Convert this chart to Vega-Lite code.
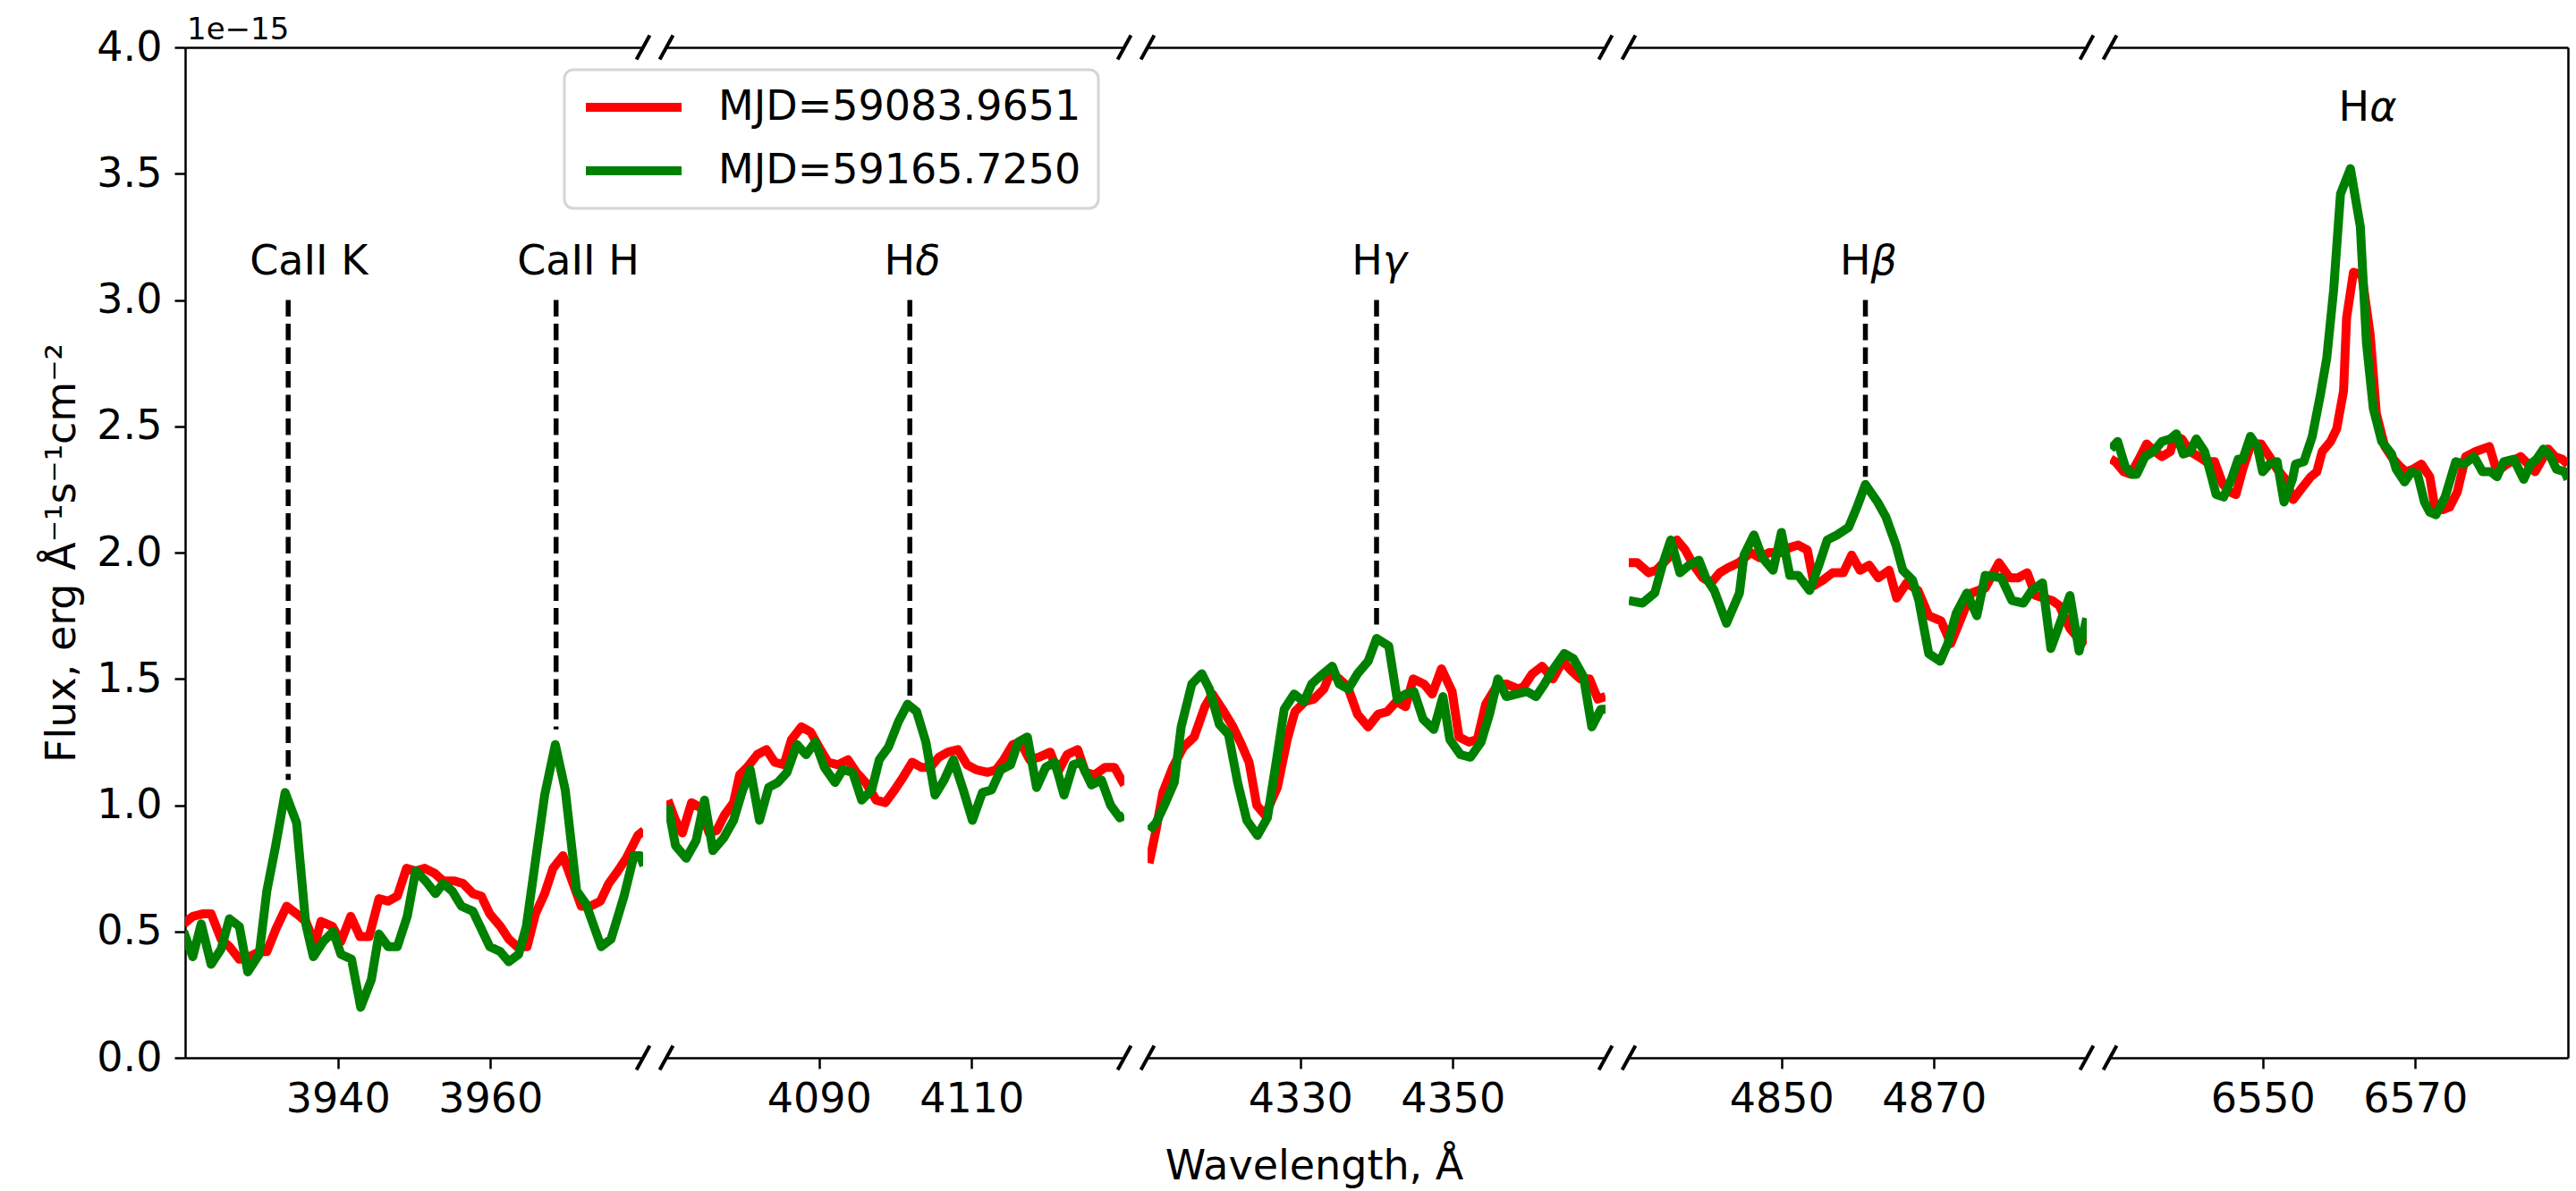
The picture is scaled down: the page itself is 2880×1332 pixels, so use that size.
{
"$schema": "https://vega.github.io/schema/vega-lite/v6.json",
"background": "white",
"padding": {"left": 46, "top": 17, "right": 5, "bottom": 5},
"bounds": "flush",
"datasets": {
"spectra": [
{"panel":1,"series":"MJD=59083.9651","wavelength":3919.8,"flux":0.53},{"panel":1,"series":"MJD=59083.9651","wavelength":3921.0,"flux":0.56},{"panel":1,"series":"MJD=59083.9651","wavelength":3922.4,"flux":0.57},{"panel":1,"series":"MJD=59083.9651","wavelength":3923.4,"flux":0.57},{"panel":1,"series":"MJD=59083.9651","wavelength":3924.7,"flux":0.47},{"panel":1,"series":"MJD=59083.9651","wavelength":3925.8,"flux":0.44},{"panel":1,"series":"MJD=59083.9651","wavelength":3927.1,"flux":0.39},{"panel":1,"series":"MJD=59083.9651","wavelength":3928.4,"flux":0.40},{"panel":1,"series":"MJD=59083.9651","wavelength":3929.7,"flux":0.42},{"panel":1,"series":"MJD=59083.9651","wavelength":3930.7,"flux":0.42},{"panel":1,"series":"MJD=59083.9651","wavelength":3931.9,"flux":0.51},{"panel":1,"series":"MJD=59083.9651","wavelength":3933.3,"flux":0.60},{"panel":1,"series":"MJD=59083.9651","wavelength":3934.6,"flux":0.57},{"panel":1,"series":"MJD=59083.9651","wavelength":3935.8,"flux":0.54},{"panel":1,"series":"MJD=59083.9651","wavelength":3937.0,"flux":0.45},{"panel":1,"series":"MJD=59083.9651","wavelength":3937.8,"flux":0.54},{"panel":1,"series":"MJD=59083.9651","wavelength":3939.3,"flux":0.52},{"panel":1,"series":"MJD=59083.9651","wavelength":3940.4,"flux":0.46},{"panel":1,"series":"MJD=59083.9651","wavelength":3941.7,"flux":0.56},{"panel":1,"series":"MJD=59083.9651","wavelength":3942.9,"flux":0.48},{"panel":1,"series":"MJD=59083.9651","wavelength":3944.1,"flux":0.48},{"panel":1,"series":"MJD=59083.9651","wavelength":3945.4,"flux":0.63},{"panel":1,"series":"MJD=59083.9651","wavelength":3946.6,"flux":0.62},{"panel":1,"series":"MJD=59083.9651","wavelength":3947.8,"flux":0.64},{"panel":1,"series":"MJD=59083.9651","wavelength":3949.0,"flux":0.75},{"panel":1,"series":"MJD=59083.9651","wavelength":3950.2,"flux":0.74},{"panel":1,"series":"MJD=59083.9651","wavelength":3951.4,"flux":0.75},{"panel":1,"series":"MJD=59083.9651","wavelength":3952.7,"flux":0.73},{"panel":1,"series":"MJD=59083.9651","wavelength":3953.8,"flux":0.70},{"panel":1,"series":"MJD=59083.9651","wavelength":3955.3,"flux":0.70},{"panel":1,"series":"MJD=59083.9651","wavelength":3956.4,"flux":0.69},{"panel":1,"series":"MJD=59083.9651","wavelength":3957.7,"flux":0.65},{"panel":1,"series":"MJD=59083.9651","wavelength":3958.8,"flux":0.64},{"panel":1,"series":"MJD=59083.9651","wavelength":3959.9,"flux":0.57},{"panel":1,"series":"MJD=59083.9651","wavelength":3961.3,"flux":0.52},{"panel":1,"series":"MJD=59083.9651","wavelength":3962.4,"flux":0.47},{"panel":1,"series":"MJD=59083.9651","wavelength":3963.5,"flux":0.44},{"panel":1,"series":"MJD=59083.9651","wavelength":3964.8,"flux":0.44},{"panel":1,"series":"MJD=59083.9651","wavelength":3965.9,"flux":0.57},{"panel":1,"series":"MJD=59083.9651","wavelength":3967.1,"flux":0.65},{"panel":1,"series":"MJD=59083.9651","wavelength":3968.2,"flux":0.75},{"panel":1,"series":"MJD=59083.9651","wavelength":3969.5,"flux":0.80},{"panel":1,"series":"MJD=59083.9651","wavelength":3970.7,"flux":0.70},{"panel":1,"series":"MJD=59083.9651","wavelength":3971.9,"flux":0.60},{"panel":1,"series":"MJD=59083.9651","wavelength":3973.1,"flux":0.60},{"panel":1,"series":"MJD=59083.9651","wavelength":3974.4,"flux":0.62},{"panel":1,"series":"MJD=59083.9651","wavelength":3975.5,"flux":0.69},{"panel":1,"series":"MJD=59083.9651","wavelength":3976.7,"flux":0.74},{"panel":1,"series":"MJD=59083.9651","wavelength":3977.8,"flux":0.79},{"panel":1,"series":"MJD=59083.9651","wavelength":3979.3,"flux":0.88},{"panel":1,"series":"MJD=59083.9651","wavelength":3980.1,"flux":0.90},
{"panel":1,"series":"MJD=59165.7250","wavelength":3919.8,"flux":0.50},{"panel":1,"series":"MJD=59165.7250","wavelength":3921.0,"flux":0.40},{"panel":1,"series":"MJD=59165.7250","wavelength":3922.1,"flux":0.53},{"panel":1,"series":"MJD=59165.7250","wavelength":3923.4,"flux":0.37},{"panel":1,"series":"MJD=59165.7250","wavelength":3924.7,"flux":0.43},{"panel":1,"series":"MJD=59165.7250","wavelength":3925.8,"flux":0.55},{"panel":1,"series":"MJD=59165.7250","wavelength":3927.1,"flux":0.52},{"panel":1,"series":"MJD=59165.7250","wavelength":3928.2,"flux":0.34},{"panel":1,"series":"MJD=59165.7250","wavelength":3929.7,"flux":0.41},{"panel":1,"series":"MJD=59165.7250","wavelength":3930.7,"flux":0.66},{"panel":1,"series":"MJD=59165.7250","wavelength":3931.8,"flux":0.83},{"panel":1,"series":"MJD=59165.7250","wavelength":3933.1,"flux":1.05},{"panel":1,"series":"MJD=59165.7250","wavelength":3934.6,"flux":0.93},{"panel":1,"series":"MJD=59165.7250","wavelength":3935.8,"flux":0.53},{"panel":1,"series":"MJD=59165.7250","wavelength":3936.8,"flux":0.40},{"panel":1,"series":"MJD=59165.7250","wavelength":3938.1,"flux":0.46},{"panel":1,"series":"MJD=59165.7250","wavelength":3939.4,"flux":0.50},{"panel":1,"series":"MJD=59165.7250","wavelength":3940.4,"flux":0.41},{"panel":1,"series":"MJD=59165.7250","wavelength":3941.8,"flux":0.39},{"panel":1,"series":"MJD=59165.7250","wavelength":3943.0,"flux":0.20},{"panel":1,"series":"MJD=59165.7250","wavelength":3944.4,"flux":0.31},{"panel":1,"series":"MJD=59165.7250","wavelength":3945.4,"flux":0.49},{"panel":1,"series":"MJD=59165.7250","wavelength":3946.6,"flux":0.44},{"panel":1,"series":"MJD=59165.7250","wavelength":3947.8,"flux":0.44},{"panel":1,"series":"MJD=59165.7250","wavelength":3949.1,"flux":0.56},{"panel":1,"series":"MJD=59165.7250","wavelength":3950.2,"flux":0.74},{"panel":1,"series":"MJD=59165.7250","wavelength":3951.5,"flux":0.70},{"panel":1,"series":"MJD=59165.7250","wavelength":3952.8,"flux":0.65},{"panel":1,"series":"MJD=59165.7250","wavelength":3953.8,"flux":0.69},{"panel":1,"series":"MJD=59165.7250","wavelength":3955.0,"flux":0.66},{"panel":1,"series":"MJD=59165.7250","wavelength":3956.2,"flux":0.60},{"panel":1,"series":"MJD=59165.7250","wavelength":3957.7,"flux":0.58},{"panel":1,"series":"MJD=59165.7250","wavelength":3958.8,"flux":0.51},{"panel":1,"series":"MJD=59165.7250","wavelength":3959.9,"flux":0.44},{"panel":1,"series":"MJD=59165.7250","wavelength":3961.3,"flux":0.42},{"panel":1,"series":"MJD=59165.7250","wavelength":3962.4,"flux":0.38},{"panel":1,"series":"MJD=59165.7250","wavelength":3963.7,"flux":0.41},{"panel":1,"series":"MJD=59165.7250","wavelength":3964.7,"flux":0.52},{"panel":1,"series":"MJD=59165.7250","wavelength":3965.9,"flux":0.78},{"panel":1,"series":"MJD=59165.7250","wavelength":3967.1,"flux":1.04},{"panel":1,"series":"MJD=59165.7250","wavelength":3968.5,"flux":1.24},{"panel":1,"series":"MJD=59165.7250","wavelength":3969.8,"flux":1.06},{"panel":1,"series":"MJD=59165.7250","wavelength":3971.3,"flux":0.66},{"panel":1,"series":"MJD=59165.7250","wavelength":3972.5,"flux":0.61},{"panel":1,"series":"MJD=59165.7250","wavelength":3974.5,"flux":0.44},{"panel":1,"series":"MJD=59165.7250","wavelength":3975.8,"flux":0.47},{"panel":1,"series":"MJD=59165.7250","wavelength":3977.5,"flux":0.64},{"panel":1,"series":"MJD=59165.7250","wavelength":3978.8,"flux":0.80},{"panel":1,"series":"MJD=59165.7250","wavelength":3979.6,"flux":0.80},{"panel":1,"series":"MJD=59165.7250","wavelength":3980.1,"flux":0.76},
{"panel":2,"series":"MJD=59083.9651","wavelength":4070.2,"flux":1.02},{"panel":2,"series":"MJD=59083.9651","wavelength":4071.2,"flux":0.94},{"panel":2,"series":"MJD=59083.9651","wavelength":4072.1,"flux":0.89},{"panel":2,"series":"MJD=59083.9651","wavelength":4073.3,"flux":1.01},{"panel":2,"series":"MJD=59083.9651","wavelength":4074.5,"flux":0.99},{"panel":2,"series":"MJD=59083.9651","wavelength":4075.6,"flux":0.89},{"panel":2,"series":"MJD=59083.9651","wavelength":4076.6,"flux":0.90},{"panel":2,"series":"MJD=59083.9651","wavelength":4077.6,"flux":0.96},{"panel":2,"series":"MJD=59083.9651","wavelength":4078.8,"flux":1.01},{"panel":2,"series":"MJD=59083.9651","wavelength":4079.6,"flux":1.12},{"panel":2,"series":"MJD=59083.9651","wavelength":4080.6,"flux":1.15},{"panel":2,"series":"MJD=59083.9651","wavelength":4081.9,"flux":1.20},{"panel":2,"series":"MJD=59083.9651","wavelength":4083.1,"flux":1.22},{"panel":2,"series":"MJD=59083.9651","wavelength":4084.2,"flux":1.17},{"panel":2,"series":"MJD=59083.9651","wavelength":4085.4,"flux":1.16},{"panel":2,"series":"MJD=59083.9651","wavelength":4086.4,"flux":1.26},{"panel":2,"series":"MJD=59083.9651","wavelength":4087.7,"flux":1.31},{"panel":2,"series":"MJD=59083.9651","wavelength":4088.9,"flux":1.29},{"panel":2,"series":"MJD=59083.9651","wavelength":4090.0,"flux":1.23},{"panel":2,"series":"MJD=59083.9651","wavelength":4091.2,"flux":1.17},{"panel":2,"series":"MJD=59083.9651","wavelength":4092.5,"flux":1.16},{"panel":2,"series":"MJD=59083.9651","wavelength":4093.8,"flux":1.18},{"panel":2,"series":"MJD=59083.9651","wavelength":4094.9,"flux":1.13},{"panel":2,"series":"MJD=59083.9651","wavelength":4096.1,"flux":1.09},{"panel":2,"series":"MJD=59083.9651","wavelength":4097.5,"flux":1.02},{"panel":2,"series":"MJD=59083.9651","wavelength":4098.7,"flux":1.01},{"panel":2,"series":"MJD=59083.9651","wavelength":4099.9,"flux":1.06},{"panel":2,"series":"MJD=59083.9651","wavelength":4101.0,"flux":1.11},{"panel":2,"series":"MJD=59083.9651","wavelength":4102.2,"flux":1.17},{"panel":2,"series":"MJD=59083.9651","wavelength":4103.4,"flux":1.15},{"panel":2,"series":"MJD=59083.9651","wavelength":4104.6,"flux":1.15},{"panel":2,"series":"MJD=59083.9651","wavelength":4105.7,"flux":1.19},{"panel":2,"series":"MJD=59083.9651","wavelength":4106.9,"flux":1.21},{"panel":2,"series":"MJD=59083.9651","wavelength":4108.2,"flux":1.22},{"panel":2,"series":"MJD=59083.9651","wavelength":4109.4,"flux":1.16},{"panel":2,"series":"MJD=59083.9651","wavelength":4110.6,"flux":1.14},{"panel":2,"series":"MJD=59083.9651","wavelength":4112.1,"flux":1.13},{"panel":2,"series":"MJD=59083.9651","wavelength":4113.2,"flux":1.14},{"panel":2,"series":"MJD=59083.9651","wavelength":4114.2,"flux":1.18},{"panel":2,"series":"MJD=59083.9651","wavelength":4115.4,"flux":1.24},{"panel":2,"series":"MJD=59083.9651","wavelength":4116.4,"flux":1.25},{"panel":2,"series":"MJD=59083.9651","wavelength":4117.6,"flux":1.18},{"panel":2,"series":"MJD=59083.9651","wavelength":4118.8,"flux":1.19},{"panel":2,"series":"MJD=59083.9651","wavelength":4120.3,"flux":1.21},{"panel":2,"series":"MJD=59083.9651","wavelength":4121.3,"flux":1.13},{"panel":2,"series":"MJD=59083.9651","wavelength":4122.5,"flux":1.20},{"panel":2,"series":"MJD=59083.9651","wavelength":4123.9,"flux":1.22},{"panel":2,"series":"MJD=59083.9651","wavelength":4124.9,"flux":1.13},{"panel":2,"series":"MJD=59083.9651","wavelength":4126.1,"flux":1.12},{"panel":2,"series":"MJD=59083.9651","wavelength":4127.5,"flux":1.15},{"panel":2,"series":"MJD=59083.9651","wavelength":4128.7,"flux":1.15},{"panel":2,"series":"MJD=59083.9651","wavelength":4130.0,"flux":1.08},
{"panel":2,"series":"MJD=59165.7250","wavelength":4070.2,"flux":1.00},{"panel":2,"series":"MJD=59165.7250","wavelength":4071.2,"flux":0.84},{"panel":2,"series":"MJD=59165.7250","wavelength":4072.6,"flux":0.79},{"panel":2,"series":"MJD=59165.7250","wavelength":4073.9,"flux":0.86},{"panel":2,"series":"MJD=59165.7250","wavelength":4075.0,"flux":1.02},{"panel":2,"series":"MJD=59165.7250","wavelength":4076.1,"flux":0.82},{"panel":2,"series":"MJD=59165.7250","wavelength":4077.5,"flux":0.87},{"panel":2,"series":"MJD=59165.7250","wavelength":4078.8,"flux":0.94},{"panel":2,"series":"MJD=59165.7250","wavelength":4079.9,"flux":1.05},{"panel":2,"series":"MJD=59165.7250","wavelength":4081.0,"flux":1.14},{"panel":2,"series":"MJD=59165.7250","wavelength":4082.2,"flux":0.94},{"panel":2,"series":"MJD=59165.7250","wavelength":4083.4,"flux":1.07},{"panel":2,"series":"MJD=59165.7250","wavelength":4084.6,"flux":1.09},{"panel":2,"series":"MJD=59165.7250","wavelength":4085.8,"flux":1.13},{"panel":2,"series":"MJD=59165.7250","wavelength":4087.1,"flux":1.24},{"panel":2,"series":"MJD=59165.7250","wavelength":4088.3,"flux":1.20},{"panel":2,"series":"MJD=59165.7250","wavelength":4089.5,"flux":1.25},{"panel":2,"series":"MJD=59165.7250","wavelength":4090.7,"flux":1.15},{"panel":2,"series":"MJD=59165.7250","wavelength":4092.1,"flux":1.09},{"panel":2,"series":"MJD=59165.7250","wavelength":4093.1,"flux":1.14},{"panel":2,"series":"MJD=59165.7250","wavelength":4094.4,"flux":1.13},{"panel":2,"series":"MJD=59165.7250","wavelength":4095.6,"flux":1.02},{"panel":2,"series":"MJD=59165.7250","wavelength":4096.9,"flux":1.06},{"panel":2,"series":"MJD=59165.7250","wavelength":4097.9,"flux":1.18},{"panel":2,"series":"MJD=59165.7250","wavelength":4099.1,"flux":1.23},{"panel":2,"series":"MJD=59165.7250","wavelength":4100.4,"flux":1.33},{"panel":2,"series":"MJD=59165.7250","wavelength":4101.6,"flux":1.40},{"panel":2,"series":"MJD=59165.7250","wavelength":4102.8,"flux":1.37},{"panel":2,"series":"MJD=59165.7250","wavelength":4104.0,"flux":1.25},{"panel":2,"series":"MJD=59165.7250","wavelength":4105.2,"flux":1.04},{"panel":2,"series":"MJD=59165.7250","wavelength":4106.4,"flux":1.10},{"panel":2,"series":"MJD=59165.7250","wavelength":4107.6,"flux":1.18},{"panel":2,"series":"MJD=59165.7250","wavelength":4108.9,"flux":1.06},{"panel":2,"series":"MJD=59165.7250","wavelength":4110.1,"flux":0.94},{"panel":2,"series":"MJD=59165.7250","wavelength":4111.4,"flux":1.05},{"panel":2,"series":"MJD=59165.7250","wavelength":4112.6,"flux":1.06},{"panel":2,"series":"MJD=59165.7250","wavelength":4113.8,"flux":1.14},{"panel":2,"series":"MJD=59165.7250","wavelength":4115.1,"flux":1.16},{"panel":2,"series":"MJD=59165.7250","wavelength":4116.1,"flux":1.25},{"panel":2,"series":"MJD=59165.7250","wavelength":4117.3,"flux":1.27},{"panel":2,"series":"MJD=59165.7250","wavelength":4118.5,"flux":1.07},{"panel":2,"series":"MJD=59165.7250","wavelength":4119.7,"flux":1.15},{"panel":2,"series":"MJD=59165.7250","wavelength":4120.9,"flux":1.17},{"panel":2,"series":"MJD=59165.7250","wavelength":4122.1,"flux":1.04},{"panel":2,"series":"MJD=59165.7250","wavelength":4123.3,"flux":1.16},{"panel":2,"series":"MJD=59165.7250","wavelength":4124.3,"flux":1.17},{"panel":2,"series":"MJD=59165.7250","wavelength":4125.7,"flux":1.08},{"panel":2,"series":"MJD=59165.7250","wavelength":4127.0,"flux":1.10},{"panel":2,"series":"MJD=59165.7250","wavelength":4128.2,"flux":1.00},{"panel":2,"series":"MJD=59165.7250","wavelength":4129.4,"flux":0.95},{"panel":2,"series":"MJD=59165.7250","wavelength":4130.0,"flux":0.96},
{"panel":3,"series":"MJD=59083.9651","wavelength":4310.2,"flux":0.77},{"panel":3,"series":"MJD=59083.9651","wavelength":4311.1,"flux":0.90},{"panel":3,"series":"MJD=59083.9651","wavelength":4312.0,"flux":1.05},{"panel":3,"series":"MJD=59083.9651","wavelength":4313.3,"flux":1.15},{"panel":3,"series":"MJD=59083.9651","wavelength":4314.7,"flux":1.23},{"panel":3,"series":"MJD=59083.9651","wavelength":4316.1,"flux":1.27},{"panel":3,"series":"MJD=59083.9651","wavelength":4317.5,"flux":1.39},{"panel":3,"series":"MJD=59083.9651","wavelength":4318.5,"flux":1.44},{"panel":3,"series":"MJD=59083.9651","wavelength":4319.8,"flux":1.38},{"panel":3,"series":"MJD=59083.9651","wavelength":4321.2,"flux":1.31},{"panel":3,"series":"MJD=59083.9651","wavelength":4322.3,"flux":1.24},{"panel":3,"series":"MJD=59083.9651","wavelength":4323.3,"flux":1.17},{"panel":3,"series":"MJD=59083.9651","wavelength":4324.3,"flux":1.00},{"panel":3,"series":"MJD=59083.9651","wavelength":4325.4,"flux":0.96},{"panel":3,"series":"MJD=59083.9651","wavelength":4327.0,"flux":1.07},{"panel":3,"series":"MJD=59083.9651","wavelength":4328.3,"flux":1.26},{"panel":3,"series":"MJD=59083.9651","wavelength":4329.3,"flux":1.37},{"panel":3,"series":"MJD=59083.9651","wavelength":4330.6,"flux":1.41},{"panel":3,"series":"MJD=59083.9651","wavelength":4331.8,"flux":1.42},{"panel":3,"series":"MJD=59083.9651","wavelength":4333.1,"flux":1.46},{"panel":3,"series":"MJD=59083.9651","wavelength":4333.9,"flux":1.52},{"panel":3,"series":"MJD=59083.9651","wavelength":4335.1,"flux":1.50},{"panel":3,"series":"MJD=59083.9651","wavelength":4336.2,"flux":1.47},{"panel":3,"series":"MJD=59083.9651","wavelength":4337.5,"flux":1.36},{"panel":3,"series":"MJD=59083.9651","wavelength":4338.9,"flux":1.31},{"panel":3,"series":"MJD=59083.9651","wavelength":4340.2,"flux":1.36},{"panel":3,"series":"MJD=59083.9651","wavelength":4341.4,"flux":1.37},{"panel":3,"series":"MJD=59083.9651","wavelength":4342.6,"flux":1.41},{"panel":3,"series":"MJD=59083.9651","wavelength":4343.8,"flux":1.39},{"panel":3,"series":"MJD=59083.9651","wavelength":4344.8,"flux":1.50},{"panel":3,"series":"MJD=59083.9651","wavelength":4346.2,"flux":1.48},{"panel":3,"series":"MJD=59083.9651","wavelength":4347.3,"flux":1.44},{"panel":3,"series":"MJD=59083.9651","wavelength":4348.5,"flux":1.54},{"panel":3,"series":"MJD=59083.9651","wavelength":4349.9,"flux":1.45},{"panel":3,"series":"MJD=59083.9651","wavelength":4350.8,"flux":1.27},{"panel":3,"series":"MJD=59083.9651","wavelength":4352.1,"flux":1.25},{"panel":3,"series":"MJD=59083.9651","wavelength":4353.2,"flux":1.26},{"panel":3,"series":"MJD=59083.9651","wavelength":4354.3,"flux":1.40},{"panel":3,"series":"MJD=59083.9651","wavelength":4355.7,"flux":1.47},{"panel":3,"series":"MJD=59083.9651","wavelength":4357.0,"flux":1.48},{"panel":3,"series":"MJD=59083.9651","wavelength":4358.6,"flux":1.46},{"panel":3,"series":"MJD=59083.9651","wavelength":4359.3,"flux":1.47},{"panel":3,"series":"MJD=59083.9651","wavelength":4360.4,"flux":1.52},{"panel":3,"series":"MJD=59083.9651","wavelength":4361.7,"flux":1.55},{"panel":3,"series":"MJD=59083.9651","wavelength":4363.1,"flux":1.50},{"panel":3,"series":"MJD=59083.9651","wavelength":4364.4,"flux":1.57},{"panel":3,"series":"MJD=59083.9651","wavelength":4365.6,"flux":1.53},{"panel":3,"series":"MJD=59083.9651","wavelength":4366.7,"flux":1.50},{"panel":3,"series":"MJD=59083.9651","wavelength":4367.9,"flux":1.50},{"panel":3,"series":"MJD=59083.9651","wavelength":4369.0,"flux":1.42},{"panel":3,"series":"MJD=59083.9651","wavelength":4370.0,"flux":1.43},
{"panel":3,"series":"MJD=59165.7250","wavelength":4310.2,"flux":0.90},{"panel":3,"series":"MJD=59165.7250","wavelength":4311.1,"flux":0.93},{"panel":3,"series":"MJD=59165.7250","wavelength":4312.2,"flux":1.00},{"panel":3,"series":"MJD=59165.7250","wavelength":4313.5,"flux":1.09},{"panel":3,"series":"MJD=59165.7250","wavelength":4314.4,"flux":1.31},{"panel":3,"series":"MJD=59165.7250","wavelength":4315.8,"flux":1.48},{"panel":3,"series":"MJD=59165.7250","wavelength":4317.1,"flux":1.52},{"panel":3,"series":"MJD=59165.7250","wavelength":4318.1,"flux":1.46},{"panel":3,"series":"MJD=59165.7250","wavelength":4319.4,"flux":1.32},{"panel":3,"series":"MJD=59165.7250","wavelength":4320.6,"flux":1.28},{"panel":3,"series":"MJD=59165.7250","wavelength":4321.8,"flux":1.09},{"panel":3,"series":"MJD=59165.7250","wavelength":4323.0,"flux":0.94},{"panel":3,"series":"MJD=59165.7250","wavelength":4324.4,"flux":0.88},{"panel":3,"series":"MJD=59165.7250","wavelength":4325.7,"flux":0.95},{"panel":3,"series":"MJD=59165.7250","wavelength":4326.9,"flux":1.18},{"panel":3,"series":"MJD=59165.7250","wavelength":4327.9,"flux":1.38},{"panel":3,"series":"MJD=59165.7250","wavelength":4329.2,"flux":1.44},{"panel":3,"series":"MJD=59165.7250","wavelength":4330.5,"flux":1.41},{"panel":3,"series":"MJD=59165.7250","wavelength":4331.5,"flux":1.48},{"panel":3,"series":"MJD=59165.7250","wavelength":4332.6,"flux":1.51},{"panel":3,"series":"MJD=59165.7250","wavelength":4334.2,"flux":1.55},{"panel":3,"series":"MJD=59165.7250","wavelength":4335.1,"flux":1.48},{"panel":3,"series":"MJD=59165.7250","wavelength":4336.3,"flux":1.46},{"panel":3,"series":"MJD=59165.7250","wavelength":4337.5,"flux":1.52},{"panel":3,"series":"MJD=59165.7250","wavelength":4338.9,"flux":1.57},{"panel":3,"series":"MJD=59165.7250","wavelength":4340.0,"flux":1.66},{"panel":3,"series":"MJD=59165.7250","wavelength":4341.6,"flux":1.63},{"panel":3,"series":"MJD=59165.7250","wavelength":4342.7,"flux":1.42},{"panel":3,"series":"MJD=59165.7250","wavelength":4343.8,"flux":1.44},{"panel":3,"series":"MJD=59165.7250","wavelength":4344.9,"flux":1.45},{"panel":3,"series":"MJD=59165.7250","wavelength":4346.1,"flux":1.34},{"panel":3,"series":"MJD=59165.7250","wavelength":4347.5,"flux":1.30},{"panel":3,"series":"MJD=59165.7250","wavelength":4348.7,"flux":1.43},{"panel":3,"series":"MJD=59165.7250","wavelength":4349.6,"flux":1.26},{"panel":3,"series":"MJD=59165.7250","wavelength":4351.0,"flux":1.20},{"panel":3,"series":"MJD=59165.7250","wavelength":4352.3,"flux":1.19},{"panel":3,"series":"MJD=59165.7250","wavelength":4353.7,"flux":1.25},{"panel":3,"series":"MJD=59165.7250","wavelength":4354.8,"flux":1.36},{"panel":3,"series":"MJD=59165.7250","wavelength":4355.9,"flux":1.50},{"panel":3,"series":"MJD=59165.7250","wavelength":4357.0,"flux":1.43},{"panel":3,"series":"MJD=59165.7250","wavelength":4358.4,"flux":1.44},{"panel":3,"series":"MJD=59165.7250","wavelength":4359.7,"flux":1.45},{"panel":3,"series":"MJD=59165.7250","wavelength":4360.9,"flux":1.43},{"panel":3,"series":"MJD=59165.7250","wavelength":4362.0,"flux":1.48},{"panel":3,"series":"MJD=59165.7250","wavelength":4363.2,"flux":1.54},{"panel":3,"series":"MJD=59165.7250","wavelength":4364.6,"flux":1.60},{"panel":3,"series":"MJD=59165.7250","wavelength":4365.8,"flux":1.58},{"panel":3,"series":"MJD=59165.7250","wavelength":4367.1,"flux":1.51},{"panel":3,"series":"MJD=59165.7250","wavelength":4368.2,"flux":1.31},{"panel":3,"series":"MJD=59165.7250","wavelength":4369.4,"flux":1.38},{"panel":3,"series":"MJD=59165.7250","wavelength":4370.0,"flux":1.38},
{"panel":4,"series":"MJD=59083.9651","wavelength":4830.0,"flux":1.96},{"panel":4,"series":"MJD=59083.9651","wavelength":4831.1,"flux":1.96},{"panel":4,"series":"MJD=59083.9651","wavelength":4832.6,"flux":1.92},{"panel":4,"series":"MJD=59083.9651","wavelength":4833.6,"flux":1.93},{"panel":4,"series":"MJD=59083.9651","wavelength":4835.2,"flux":1.98},{"panel":4,"series":"MJD=59083.9651","wavelength":4836.3,"flux":2.05},{"panel":4,"series":"MJD=59083.9651","wavelength":4837.4,"flux":2.01},{"panel":4,"series":"MJD=59083.9651","wavelength":4838.5,"flux":1.95},{"panel":4,"series":"MJD=59083.9651","wavelength":4839.7,"flux":1.90},{"panel":4,"series":"MJD=59083.9651","wavelength":4840.8,"flux":1.88},{"panel":4,"series":"MJD=59083.9651","wavelength":4841.9,"flux":1.92},{"panel":4,"series":"MJD=59083.9651","wavelength":4843.0,"flux":1.94},{"panel":4,"series":"MJD=59083.9651","wavelength":4844.4,"flux":1.96},{"panel":4,"series":"MJD=59083.9651","wavelength":4846.0,"flux":2.00},{"panel":4,"series":"MJD=59083.9651","wavelength":4847.1,"flux":1.98},{"panel":4,"series":"MJD=59083.9651","wavelength":4848.4,"flux":2.00},{"panel":4,"series":"MJD=59083.9651","wavelength":4850.0,"flux":2.00},{"panel":4,"series":"MJD=59083.9651","wavelength":4851.1,"flux":2.02},{"panel":4,"series":"MJD=59083.9651","wavelength":4852.2,"flux":2.03},{"panel":4,"series":"MJD=59083.9651","wavelength":4853.4,"flux":2.01},{"panel":4,"series":"MJD=59083.9651","wavelength":4854.3,"flux":1.87},{"panel":4,"series":"MJD=59083.9651","wavelength":4855.4,"flux":1.89},{"panel":4,"series":"MJD=59083.9651","wavelength":4856.7,"flux":1.92},{"panel":4,"series":"MJD=59083.9651","wavelength":4858.1,"flux":1.92},{"panel":4,"series":"MJD=59083.9651","wavelength":4859.2,"flux":1.99},{"panel":4,"series":"MJD=59083.9651","wavelength":4860.3,"flux":1.93},{"panel":4,"series":"MJD=59083.9651","wavelength":4861.5,"flux":1.95},{"panel":4,"series":"MJD=59083.9651","wavelength":4862.7,"flux":1.90},{"panel":4,"series":"MJD=59083.9651","wavelength":4864.1,"flux":1.93},{"panel":4,"series":"MJD=59083.9651","wavelength":4865.1,"flux":1.82},{"panel":4,"series":"MJD=59083.9651","wavelength":4866.4,"flux":1.88},{"panel":4,"series":"MJD=59083.9651","wavelength":4867.9,"flux":1.85},{"panel":4,"series":"MJD=59083.9651","wavelength":4869.3,"flux":1.75},{"panel":4,"series":"MJD=59083.9651","wavelength":4870.9,"flux":1.73},{"panel":4,"series":"MJD=59083.9651","wavelength":4872.2,"flux":1.64},{"panel":4,"series":"MJD=59083.9651","wavelength":4873.8,"flux":1.76},{"panel":4,"series":"MJD=59083.9651","wavelength":4874.9,"flux":1.84},{"panel":4,"series":"MJD=59083.9651","wavelength":4876.7,"flux":1.86},{"panel":4,"series":"MJD=59083.9651","wavelength":4878.5,"flux":1.96},{"panel":4,"series":"MJD=59083.9651","wavelength":4879.9,"flux":1.90},{"panel":4,"series":"MJD=59083.9651","wavelength":4881.0,"flux":1.90},{"panel":4,"series":"MJD=59083.9651","wavelength":4882.2,"flux":1.92},{"panel":4,"series":"MJD=59083.9651","wavelength":4883.3,"flux":1.83},{"panel":4,"series":"MJD=59083.9651","wavelength":4885.5,"flux":1.81},{"panel":4,"series":"MJD=59083.9651","wavelength":4886.4,"flux":1.79},{"panel":4,"series":"MJD=59083.9651","wavelength":4887.8,"flux":1.70},{"panel":4,"series":"MJD=59083.9651","wavelength":4888.9,"flux":1.66},{"panel":4,"series":"MJD=59083.9651","wavelength":4890.0,"flux":1.64},
{"panel":4,"series":"MJD=59165.7250","wavelength":4830.0,"flux":1.81},{"panel":4,"series":"MJD=59165.7250","wavelength":4831.8,"flux":1.80},{"panel":4,"series":"MJD=59165.7250","wavelength":4833.4,"flux":1.84},{"panel":4,"series":"MJD=59165.7250","wavelength":4834.4,"flux":1.95},{"panel":4,"series":"MJD=59165.7250","wavelength":4835.5,"flux":2.05},{"panel":4,"series":"MJD=59165.7250","wavelength":4836.7,"flux":1.92},{"panel":4,"series":"MJD=59165.7250","wavelength":4837.9,"flux":1.95},{"panel":4,"series":"MJD=59165.7250","wavelength":4839.2,"flux":1.97},{"panel":4,"series":"MJD=59165.7250","wavelength":4840.1,"flux":1.90},{"panel":4,"series":"MJD=59165.7250","wavelength":4841.2,"flux":1.85},{"panel":4,"series":"MJD=59165.7250","wavelength":4842.8,"flux":1.72},{"panel":4,"series":"MJD=59165.7250","wavelength":4844.5,"flux":1.84},{"panel":4,"series":"MJD=59165.7250","wavelength":4845.1,"flux":1.99},{"panel":4,"series":"MJD=59165.7250","wavelength":4846.4,"flux":2.07},{"panel":4,"series":"MJD=59165.7250","wavelength":4847.5,"flux":1.98},{"panel":4,"series":"MJD=59165.7250","wavelength":4848.9,"flux":1.93},{"panel":4,"series":"MJD=59165.7250","wavelength":4850.0,"flux":2.08},{"panel":4,"series":"MJD=59165.7250","wavelength":4851.1,"flux":1.91},{"panel":4,"series":"MJD=59165.7250","wavelength":4852.2,"flux":1.91},{"panel":4,"series":"MJD=59165.7250","wavelength":4853.7,"flux":1.85},{"panel":4,"series":"MJD=59165.7250","wavelength":4854.9,"flux":1.95},{"panel":4,"series":"MJD=59165.7250","wavelength":4856.0,"flux":2.05},{"panel":4,"series":"MJD=59165.7250","wavelength":4857.3,"flux":2.07},{"panel":4,"series":"MJD=59165.7250","wavelength":4858.8,"flux":2.10},{"panel":4,"series":"MJD=59165.7250","wavelength":4859.9,"flux":2.18},{"panel":4,"series":"MJD=59165.7250","wavelength":4861.0,"flux":2.27},{"panel":4,"series":"MJD=59165.7250","wavelength":4862.6,"flux":2.20},{"panel":4,"series":"MJD=59165.7250","wavelength":4863.7,"flux":2.14},{"panel":4,"series":"MJD=59165.7250","wavelength":4865.0,"flux":2.03},{"panel":4,"series":"MJD=59165.7250","wavelength":4865.9,"flux":1.93},{"panel":4,"series":"MJD=59165.7250","wavelength":4867.2,"flux":1.89},{"panel":4,"series":"MJD=59165.7250","wavelength":4868.0,"flux":1.81},{"panel":4,"series":"MJD=59165.7250","wavelength":4869.3,"flux":1.60},{"panel":4,"series":"MJD=59165.7250","wavelength":4870.8,"flux":1.57},{"panel":4,"series":"MJD=59165.7250","wavelength":4871.8,"flux":1.64},{"panel":4,"series":"MJD=59165.7250","wavelength":4872.9,"flux":1.76},{"panel":4,"series":"MJD=59165.7250","wavelength":4874.3,"flux":1.84},{"panel":4,"series":"MJD=59165.7250","wavelength":4875.6,"flux":1.75},{"panel":4,"series":"MJD=59165.7250","wavelength":4876.7,"flux":1.91},{"panel":4,"series":"MJD=59165.7250","wavelength":4878.8,"flux":1.90},{"panel":4,"series":"MJD=59165.7250","wavelength":4880.2,"flux":1.81},{"panel":4,"series":"MJD=59165.7250","wavelength":4881.7,"flux":1.80},{"panel":4,"series":"MJD=59165.7250","wavelength":4882.8,"flux":1.85},{"panel":4,"series":"MJD=59165.7250","wavelength":4884.2,"flux":1.88},{"panel":4,"series":"MJD=59165.7250","wavelength":4885.3,"flux":1.62},{"panel":4,"series":"MJD=59165.7250","wavelength":4887.8,"flux":1.83},{"panel":4,"series":"MJD=59165.7250","wavelength":4889.0,"flux":1.61},{"panel":4,"series":"MJD=59165.7250","wavelength":4890.0,"flux":1.74},
{"panel":5,"series":"MJD=59083.9651","wavelength":6530.1,"flux":2.37},{"panel":5,"series":"MJD=59083.9651","wavelength":6530.7,"flux":2.36},{"panel":5,"series":"MJD=59083.9651","wavelength":6531.8,"flux":2.32},{"panel":5,"series":"MJD=59083.9651","wavelength":6532.7,"flux":2.31},{"panel":5,"series":"MJD=59083.9651","wavelength":6533.8,"flux":2.37},{"panel":5,"series":"MJD=59083.9651","wavelength":6534.8,"flux":2.43},{"panel":5,"series":"MJD=59083.9651","wavelength":6535.9,"flux":2.40},{"panel":5,"series":"MJD=59083.9651","wavelength":6536.8,"flux":2.38},{"panel":5,"series":"MJD=59083.9651","wavelength":6537.9,"flux":2.40},{"panel":5,"series":"MJD=59083.9651","wavelength":6538.5,"flux":2.46},{"panel":5,"series":"MJD=59083.9651","wavelength":6539.4,"flux":2.45},{"panel":5,"series":"MJD=59083.9651","wavelength":6540.5,"flux":2.40},{"panel":5,"series":"MJD=59083.9651","wavelength":6541.6,"flux":2.38},{"panel":5,"series":"MJD=59083.9651","wavelength":6542.6,"flux":2.36},{"panel":5,"series":"MJD=59083.9651","wavelength":6543.7,"flux":2.36},{"panel":5,"series":"MJD=59083.9651","wavelength":6544.8,"flux":2.27},{"panel":5,"series":"MJD=59083.9651","wavelength":6545.7,"flux":2.24},{"panel":5,"series":"MJD=59083.9651","wavelength":6546.5,"flux":2.23},{"panel":5,"series":"MJD=59083.9651","wavelength":6547.4,"flux":2.33},{"panel":5,"series":"MJD=59083.9651","wavelength":6548.5,"flux":2.43},{"panel":5,"series":"MJD=59083.9651","wavelength":6549.8,"flux":2.43},{"panel":5,"series":"MJD=59083.9651","wavelength":6550.9,"flux":2.38},{"panel":5,"series":"MJD=59083.9651","wavelength":6551.9,"flux":2.33},{"panel":5,"series":"MJD=59083.9651","wavelength":6553.0,"flux":2.29},{"panel":5,"series":"MJD=59083.9651","wavelength":6554.0,"flux":2.21},{"panel":5,"series":"MJD=59083.9651","wavelength":6555.0,"flux":2.25},{"panel":5,"series":"MJD=59083.9651","wavelength":6556.3,"flux":2.30},{"panel":5,"series":"MJD=59083.9651","wavelength":6557.1,"flux":2.32},{"panel":5,"series":"MJD=59083.9651","wavelength":6557.8,"flux":2.40},{"panel":5,"series":"MJD=59083.9651","wavelength":6558.9,"flux":2.44},{"panel":5,"series":"MJD=59083.9651","wavelength":6559.7,"flux":2.49},{"panel":5,"series":"MJD=59083.9651","wavelength":6560.6,"flux":2.64},{"panel":5,"series":"MJD=59083.9651","wavelength":6561.0,"flux":2.93},{"panel":5,"series":"MJD=59083.9651","wavelength":6561.9,"flux":3.11},{"panel":5,"series":"MJD=59083.9651","wavelength":6563.0,"flux":3.10},{"panel":5,"series":"MJD=59083.9651","wavelength":6564.1,"flux":2.86},{"panel":5,"series":"MJD=59083.9651","wavelength":6564.9,"flux":2.55},{"panel":5,"series":"MJD=59083.9651","wavelength":6566.0,"flux":2.42},{"panel":5,"series":"MJD=59083.9651","wavelength":6567.1,"flux":2.37},{"panel":5,"series":"MJD=59083.9651","wavelength":6568.0,"flux":2.34},{"panel":5,"series":"MJD=59083.9651","wavelength":6568.8,"flux":2.32},{"panel":5,"series":"MJD=59083.9651","wavelength":6569.7,"flux":2.33},{"panel":5,"series":"MJD=59083.9651","wavelength":6570.8,"flux":2.35},{"panel":5,"series":"MJD=59083.9651","wavelength":6571.9,"flux":2.30},{"panel":5,"series":"MJD=59083.9651","wavelength":6572.5,"flux":2.19},{"panel":5,"series":"MJD=59083.9651","wavelength":6573.6,"flux":2.17},{"panel":5,"series":"MJD=59083.9651","wavelength":6574.5,"flux":2.18},{"panel":5,"series":"MJD=59083.9651","wavelength":6575.5,"flux":2.24},{"panel":5,"series":"MJD=59083.9651","wavelength":6576.6,"flux":2.38},{"panel":5,"series":"MJD=59083.9651","wavelength":6577.9,"flux":2.40},{"panel":5,"series":"MJD=59083.9651","wavelength":6579.7,"flux":2.42},{"panel":5,"series":"MJD=59083.9651","wavelength":6580.7,"flux":2.32},{"panel":5,"series":"MJD=59083.9651","wavelength":6582.0,"flux":2.35},{"panel":5,"series":"MJD=59083.9651","wavelength":6583.8,"flux":2.38},{"panel":5,"series":"MJD=59083.9651","wavelength":6584.8,"flux":2.35},{"panel":5,"series":"MJD=59083.9651","wavelength":6585.7,"flux":2.32},{"panel":5,"series":"MJD=59083.9651","wavelength":6587.4,"flux":2.41},{"panel":5,"series":"MJD=59083.9651","wavelength":6588.3,"flux":2.38},{"panel":5,"series":"MJD=59083.9651","wavelength":6589.2,"flux":2.37},{"panel":5,"series":"MJD=59083.9651","wavelength":6590.0,"flux":2.35},
{"panel":5,"series":"MJD=59165.7250","wavelength":6530.1,"flux":2.41},{"panel":5,"series":"MJD=59165.7250","wavelength":6531.0,"flux":2.44},{"panel":5,"series":"MJD=59165.7250","wavelength":6532.0,"flux":2.34},{"panel":5,"series":"MJD=59165.7250","wavelength":6532.9,"flux":2.31},{"panel":5,"series":"MJD=59165.7250","wavelength":6533.5,"flux":2.31},{"panel":5,"series":"MJD=59165.7250","wavelength":6534.6,"flux":2.38},{"panel":5,"series":"MJD=59165.7250","wavelength":6535.7,"flux":2.40},{"panel":5,"series":"MJD=59165.7250","wavelength":6536.8,"flux":2.44},{"panel":5,"series":"MJD=59165.7250","wavelength":6537.9,"flux":2.45},{"panel":5,"series":"MJD=59165.7250","wavelength":6538.7,"flux":2.47},{"panel":5,"series":"MJD=59165.7250","wavelength":6539.6,"flux":2.39},{"panel":5,"series":"MJD=59165.7250","wavelength":6540.5,"flux":2.40},{"panel":5,"series":"MJD=59165.7250","wavelength":6541.3,"flux":2.45},{"panel":5,"series":"MJD=59165.7250","wavelength":6542.4,"flux":2.40},{"panel":5,"series":"MJD=59165.7250","wavelength":6543.3,"flux":2.30},{"panel":5,"series":"MJD=59165.7250","wavelength":6543.9,"flux":2.23},{"panel":5,"series":"MJD=59165.7250","wavelength":6544.9,"flux":2.22},{"panel":5,"series":"MJD=59165.7250","wavelength":6545.9,"flux":2.29},{"panel":5,"series":"MJD=59165.7250","wavelength":6546.8,"flux":2.37},{"panel":5,"series":"MJD=59165.7250","wavelength":6547.4,"flux":2.37},{"panel":5,"series":"MJD=59165.7250","wavelength":6548.4,"flux":2.46},{"panel":5,"series":"MJD=59165.7250","wavelength":6549.3,"flux":2.42},{"panel":5,"series":"MJD=59165.7250","wavelength":6550.0,"flux":2.32},{"panel":5,"series":"MJD=59165.7250","wavelength":6550.9,"flux":2.35},{"panel":5,"series":"MJD=59165.7250","wavelength":6551.9,"flux":2.36},{"panel":5,"series":"MJD=59165.7250","wavelength":6552.8,"flux":2.20},{"panel":5,"series":"MJD=59165.7250","wavelength":6553.9,"flux":2.29},{"panel":5,"series":"MJD=59165.7250","wavelength":6554.3,"flux":2.35},{"panel":5,"series":"MJD=59165.7250","wavelength":6555.4,"flux":2.36},{"panel":5,"series":"MJD=59165.7250","wavelength":6556.5,"flux":2.46},{"panel":5,"series":"MJD=59165.7250","wavelength":6557.6,"flux":2.63},{"panel":5,"series":"MJD=59165.7250","wavelength":6558.4,"flux":2.77},{"panel":5,"series":"MJD=59165.7250","wavelength":6559.3,"flux":3.04},{"panel":5,"series":"MJD=59165.7250","wavelength":6560.2,"flux":3.42},{"panel":5,"series":"MJD=59165.7250","wavelength":6561.5,"flux":3.52},{"panel":5,"series":"MJD=59165.7250","wavelength":6562.8,"flux":3.29},{"panel":5,"series":"MJD=59165.7250","wavelength":6563.6,"flux":2.83},{"panel":5,"series":"MJD=59165.7250","wavelength":6564.5,"flux":2.57},{"panel":5,"series":"MJD=59165.7250","wavelength":6565.6,"flux":2.44},{"panel":5,"series":"MJD=59165.7250","wavelength":6566.9,"flux":2.39},{"panel":5,"series":"MJD=59165.7250","wavelength":6567.5,"flux":2.33},{"panel":5,"series":"MJD=59165.7250","wavelength":6568.6,"flux":2.28},{"panel":5,"series":"MJD=59165.7250","wavelength":6569.5,"flux":2.32},{"panel":5,"series":"MJD=59165.7250","wavelength":6570.3,"flux":2.31},{"panel":5,"series":"MJD=59165.7250","wavelength":6571.2,"flux":2.20},{"panel":5,"series":"MJD=59165.7250","wavelength":6571.9,"flux":2.16},{"panel":5,"series":"MJD=59165.7250","wavelength":6572.7,"flux":2.15},{"panel":5,"series":"MJD=59165.7250","wavelength":6573.9,"flux":2.22},{"panel":5,"series":"MJD=59165.7250","wavelength":6575.3,"flux":2.36},{"panel":5,"series":"MJD=59165.7250","wavelength":6576.4,"flux":2.35},{"panel":5,"series":"MJD=59165.7250","wavelength":6577.7,"flux":2.38},{"panel":5,"series":"MJD=59165.7250","wavelength":6578.8,"flux":2.32},{"panel":5,"series":"MJD=59165.7250","wavelength":6579.9,"flux":2.32},{"panel":5,"series":"MJD=59165.7250","wavelength":6580.7,"flux":2.30},{"panel":5,"series":"MJD=59165.7250","wavelength":6581.6,"flux":2.36},{"panel":5,"series":"MJD=59165.7250","wavelength":6582.9,"flux":2.37},{"panel":5,"series":"MJD=59165.7250","wavelength":6584.2,"flux":2.29},{"panel":5,"series":"MJD=59165.7250","wavelength":6585.1,"flux":2.35},{"panel":5,"series":"MJD=59165.7250","wavelength":6585.9,"flux":2.37},{"panel":5,"series":"MJD=59165.7250","wavelength":6586.8,"flux":2.41},{"panel":5,"series":"MJD=59165.7250","wavelength":6587.7,"flux":2.38},{"panel":5,"series":"MJD=59165.7250","wavelength":6588.5,"flux":2.33},{"panel":5,"series":"MJD=59165.7250","wavelength":6589.6,"flux":2.32},{"panel":5,"series":"MJD=59165.7250","wavelength":6590.0,"flux":2.29}
],
"markers": [
{"panel":1,"wavelength":3933.5,"top":3.0,"bottom":1.10},
{"panel":1,"wavelength":3968.6,"top":3.0,"bottom":1.30},
{"panel":2,"wavelength":4101.9,"top":3.0,"bottom":1.43},
{"panel":3,"wavelength":4340.0,"top":3.0,"bottom":1.70},
{"panel":4,"wavelength":4861.0,"top":3.0,"bottom":2.30}
],
"labels": [
{"panel":1,"wavelength":3936.2,"flux":3.1,"label":"CaII K"},
{"panel":1,"wavelength":3971.5,"flux":3.1,"label":"CaII H"}
],
"greek": [
{"panel":2,"wavelength":4102.6,"flux":3.1,"h":"H","g":"δ"},
{"panel":3,"wavelength":4340.8,"flux":3.1,"h":"H","g":"γ"},
{"panel":4,"wavelength":4861.7,"flux":3.1,"h":"H","g":"β"},
{"panel":5,"wavelength":6564.0,"flux":3.71,"h":"H","g":"α"}
],
"breaks": [
{"panel":1,"wavelength":3980,"flux":0},{"panel":1,"wavelength":3980,"flux":4},
{"panel":2,"wavelength":4070,"flux":0},{"panel":2,"wavelength":4070,"flux":4},{"panel":2,"wavelength":4130,"flux":0},{"panel":2,"wavelength":4130,"flux":4},
{"panel":3,"wavelength":4310,"flux":0},{"panel":3,"wavelength":4310,"flux":4},{"panel":3,"wavelength":4370,"flux":0},{"panel":3,"wavelength":4370,"flux":4},
{"panel":4,"wavelength":4830,"flux":0},{"panel":4,"wavelength":4830,"flux":4},{"panel":4,"wavelength":4890,"flux":0},{"panel":4,"wavelength":4890,"flux":4},
{"panel":5,"wavelength":6530,"flux":0},{"panel":5,"wavelength":6530,"flux":4}
],
"multiplier": [
{"panel":1,"wavelength":3920,"flux":4,"label":"1e−15"}
]
},
"spacing": 26,
"hconcat": [
{
"width": 512, "height": 1130,
"layer": [
{"data":{"name":"spectra"},"transform":[{"filter":"datum.panel == 1"}],
"mark":{"type":"line","strokeWidth":10,"strokeJoin":"round","clip":true},
"encoding":{
"x":{"field":"wavelength","type":"quantitative","scale":{"domain":[3920,3980],"nice":false,"zero":false},"axis":{"orient":"bottom","values":[3940,3960],"format":"d","title":null,"labelFlush":false}},
"y":{"field":"flux","type":"quantitative","scale":{"domain":[0,4],"nice":false,"zero":false},"axis":{"values":[0,0.5,1,1.5,2,2.5,3,3.5,4],"format":".1f","title":"Flux, erg Å⁻¹s⁻¹cm⁻²","labelPadding":14,"titlePadding":14}},
"color":{"field":"series","type":"nominal","scale":{"domain":["MJD=59083.9651","MJD=59165.7250"],"range":["#ff0000","#008000"]},
"legend":{"title":null,"orient":"none","legendX":424,"legendY":25,"symbolType":"stroke","symbolSize":11449,"symbolStrokeWidth":10,"labelFontSize":46,"labelFont":"DejaVu Sans","labelColor":"black","labelLimit":1000,"labelOffset":36,"fillColor":"white","strokeColor":"#d5d5d5","cornerRadius":10,"padding":19,"rowPadding":25,"clipHeight":46}}
}},
{"data":{"name":"markers"},"transform":[{"filter":"datum.panel == 1"}],
"mark":{"type":"rule","strokeWidth":5.5,"strokeDash":[18.5,8],"color":"black"},
"encoding":{"x":{"field":"wavelength","type":"quantitative","axis":null},"y":{"field":"top","type":"quantitative","axis":null},"y2":{"field":"bottom"}}},
{"data":{"name":"labels"},"transform":[{"filter":"datum.panel == 1"}],
"mark":{"type":"text","fontSize":46,"font":"DejaVu Sans","align":"center","baseline":"alphabetic","color":"black"},
"encoding":{"x":{"field":"wavelength","type":"quantitative","axis":null},"y":{"field":"flux","type":"quantitative","axis":null},"text":{"field":"label"}}},
{"data":{"name":"multiplier"},
"mark":{"type":"text","fontSize":34,"font":"DejaVu Sans","align":"left","baseline":"alphabetic","dy":-9,"dx":2,"color":"black"},
"encoding":{"x":{"field":"wavelength","type":"quantitative","axis":null},"y":{"field":"flux","type":"quantitative","axis":null},"text":{"field":"label"}}},
{"data":{"name":"breaks"},"transform":[{"filter":"datum.panel == 1"}],
"mark":{"type":"point","shape":"M -0.55 1 L 0.55 -1","size":729,"strokeWidth":4,"color":"black","filled":false,"opacity":1},
"encoding":{"x":{"field":"wavelength","type":"quantitative","axis":{"orient":"top","labels":false,"ticks":false,"title":null,"domain":true}},"y":{"field":"flux","type":"quantitative","axis":null}}}
],
"resolve":{"axis":{"x":"independent","y":"independent"}}
},
{
"width": 512, "height": 1130,
"layer": [
{"data":{"name":"spectra"},"transform":[{"filter":"datum.panel == 2"}],
"mark":{"type":"line","strokeWidth":10,"strokeJoin":"round","clip":true},
"encoding":{
"x":{"field":"wavelength","type":"quantitative","scale":{"domain":[4070,4130],"nice":false,"zero":false},"axis":{"orient":"bottom","values":[4090,4110],"format":"d","title":null,"labelFlush":false}},
"y":{"field":"flux","type":"quantitative","scale":{"domain":[0,4],"nice":false,"zero":false},"axis":null},
"color":{"field":"series","type":"nominal","scale":{"domain":["MJD=59083.9651","MJD=59165.7250"],"range":["#ff0000","#008000"]},"legend":null}
}},
{"data":{"name":"markers"},"transform":[{"filter":"datum.panel == 2"}],
"mark":{"type":"rule","strokeWidth":5.5,"strokeDash":[18.5,8],"color":"black"},
"encoding":{"x":{"field":"wavelength","type":"quantitative","axis":null},"y":{"field":"top","type":"quantitative","axis":null},"y2":{"field":"bottom"}}},
{"data":{"name":"greek"},"transform":[{"filter":"datum.panel == 2"}],
"mark":{"type":"text","fontSize":46,"font":"DejaVu Sans","align":"right","baseline":"alphabetic","color":"black"},
"encoding":{"x":{"field":"wavelength","type":"quantitative","axis":null},"y":{"field":"flux","type":"quantitative","axis":null},"text":{"field":"h"}}},
{"data":{"name":"greek"},"transform":[{"filter":"datum.panel == 2"}],
"mark":{"type":"text","fontSize":46,"font":"DejaVu Sans","fontStyle":"italic","align":"left","baseline":"alphabetic","color":"black"},
"encoding":{"x":{"field":"wavelength","type":"quantitative","axis":null},"y":{"field":"flux","type":"quantitative","axis":null},"text":{"field":"g"}}},
{"data":{"name":"breaks"},"transform":[{"filter":"datum.panel == 2"}],
"mark":{"type":"point","shape":"M -0.55 1 L 0.55 -1","size":729,"strokeWidth":4,"color":"black","filled":false,"opacity":1},
"encoding":{"x":{"field":"wavelength","type":"quantitative","axis":{"orient":"top","labels":false,"ticks":false,"title":null,"domain":true}},"y":{"field":"flux","type":"quantitative","axis":null}}}
],
"resolve":{"axis":{"x":"independent","y":"independent"}}
},
{
"width": 512, "height": 1130,
"layer": [
{"data":{"name":"spectra"},"transform":[{"filter":"datum.panel == 3"}],
"mark":{"type":"line","strokeWidth":10,"strokeJoin":"round","clip":true},
"encoding":{
"x":{"field":"wavelength","type":"quantitative","scale":{"domain":[4310,4370],"nice":false,"zero":false},"axis":{"orient":"bottom","values":[4330,4350],"format":"d","title":"Wavelength, Å","titleX":186,"titlePadding":30,"labelFlush":false}},
"y":{"field":"flux","type":"quantitative","scale":{"domain":[0,4],"nice":false,"zero":false},"axis":null},
"color":{"field":"series","type":"nominal","scale":{"domain":["MJD=59083.9651","MJD=59165.7250"],"range":["#ff0000","#008000"]},"legend":null}
}},
{"data":{"name":"markers"},"transform":[{"filter":"datum.panel == 3"}],
"mark":{"type":"rule","strokeWidth":5.5,"strokeDash":[18.5,8],"color":"black"},
"encoding":{"x":{"field":"wavelength","type":"quantitative","axis":null},"y":{"field":"top","type":"quantitative","axis":null},"y2":{"field":"bottom"}}},
{"data":{"name":"greek"},"transform":[{"filter":"datum.panel == 3"}],
"mark":{"type":"text","fontSize":46,"font":"DejaVu Sans","align":"right","baseline":"alphabetic","color":"black"},
"encoding":{"x":{"field":"wavelength","type":"quantitative","axis":null},"y":{"field":"flux","type":"quantitative","axis":null},"text":{"field":"h"}}},
{"data":{"name":"greek"},"transform":[{"filter":"datum.panel == 3"}],
"mark":{"type":"text","fontSize":46,"font":"DejaVu Sans","fontStyle":"italic","align":"left","baseline":"alphabetic","color":"black"},
"encoding":{"x":{"field":"wavelength","type":"quantitative","axis":null},"y":{"field":"flux","type":"quantitative","axis":null},"text":{"field":"g"}}},
{"data":{"name":"breaks"},"transform":[{"filter":"datum.panel == 3"}],
"mark":{"type":"point","shape":"M -0.55 1 L 0.55 -1","size":729,"strokeWidth":4,"color":"black","filled":false,"opacity":1},
"encoding":{"x":{"field":"wavelength","type":"quantitative","axis":{"orient":"top","labels":false,"ticks":false,"title":null,"domain":true}},"y":{"field":"flux","type":"quantitative","axis":null}}}
],
"resolve":{"axis":{"x":"independent","y":"independent"}}
},
{
"width": 512, "height": 1130,
"layer": [
{"data":{"name":"spectra"},"transform":[{"filter":"datum.panel == 4"}],
"mark":{"type":"line","strokeWidth":10,"strokeJoin":"round","clip":true},
"encoding":{
"x":{"field":"wavelength","type":"quantitative","scale":{"domain":[4830,4890],"nice":false,"zero":false},"axis":{"orient":"bottom","values":[4850,4870],"format":"d","title":null,"labelFlush":false}},
"y":{"field":"flux","type":"quantitative","scale":{"domain":[0,4],"nice":false,"zero":false},"axis":null},
"color":{"field":"series","type":"nominal","scale":{"domain":["MJD=59083.9651","MJD=59165.7250"],"range":["#ff0000","#008000"]},"legend":null}
}},
{"data":{"name":"markers"},"transform":[{"filter":"datum.panel == 4"}],
"mark":{"type":"rule","strokeWidth":5.5,"strokeDash":[18.5,8],"color":"black"},
"encoding":{"x":{"field":"wavelength","type":"quantitative","axis":null},"y":{"field":"top","type":"quantitative","axis":null},"y2":{"field":"bottom"}}},
{"data":{"name":"greek"},"transform":[{"filter":"datum.panel == 4"}],
"mark":{"type":"text","fontSize":46,"font":"DejaVu Sans","align":"right","baseline":"alphabetic","color":"black"},
"encoding":{"x":{"field":"wavelength","type":"quantitative","axis":null},"y":{"field":"flux","type":"quantitative","axis":null},"text":{"field":"h"}}},
{"data":{"name":"greek"},"transform":[{"filter":"datum.panel == 4"}],
"mark":{"type":"text","fontSize":46,"font":"DejaVu Sans","fontStyle":"italic","align":"left","baseline":"alphabetic","color":"black"},
"encoding":{"x":{"field":"wavelength","type":"quantitative","axis":null},"y":{"field":"flux","type":"quantitative","axis":null},"text":{"field":"g"}}},
{"data":{"name":"breaks"},"transform":[{"filter":"datum.panel == 4"}],
"mark":{"type":"point","shape":"M -0.55 1 L 0.55 -1","size":729,"strokeWidth":4,"color":"black","filled":false,"opacity":1},
"encoding":{"x":{"field":"wavelength","type":"quantitative","axis":{"orient":"top","labels":false,"ticks":false,"title":null,"domain":true}},"y":{"field":"flux","type":"quantitative","axis":null}}}
],
"resolve":{"axis":{"x":"independent","y":"independent"}}
},
{
"width": 512, "height": 1130,
"layer": [
{"data":{"name":"spectra"},"transform":[{"filter":"datum.panel == 5"}],
"mark":{"type":"line","strokeWidth":10,"strokeJoin":"round","clip":true},
"encoding":{
"x":{"field":"wavelength","type":"quantitative","scale":{"domain":[6530,6590],"nice":false,"zero":false},"axis":{"orient":"bottom","values":[6550,6570],"format":"d","title":null,"labelFlush":false}},
"y":{"field":"flux","type":"quantitative","scale":{"domain":[0,4],"nice":false,"zero":false},"axis":null},
"color":{"field":"series","type":"nominal","scale":{"domain":["MJD=59083.9651","MJD=59165.7250"],"range":["#ff0000","#008000"]},"legend":null}
}},
{"data":{"name":"greek"},"transform":[{"filter":"datum.panel == 5"}],
"mark":{"type":"text","fontSize":46,"font":"DejaVu Sans","align":"right","baseline":"alphabetic","color":"black"},
"encoding":{"x":{"field":"wavelength","type":"quantitative","axis":null},"y":{"field":"flux","type":"quantitative","axis":null},"text":{"field":"h"}}},
{"data":{"name":"greek"},"transform":[{"filter":"datum.panel == 5"}],
"mark":{"type":"text","fontSize":46,"font":"DejaVu Sans","fontStyle":"italic","align":"left","baseline":"alphabetic","color":"black"},
"encoding":{"x":{"field":"wavelength","type":"quantitative","axis":null},"y":{"field":"flux","type":"quantitative","axis":null},"text":{"field":"g"}}},
{"data":{"name":"breaks"},"transform":[{"filter":"datum.panel == 5"}],
"mark":{"type":"point","shape":"M -0.55 1 L 0.55 -1","size":729,"strokeWidth":4,"color":"black","filled":false,"opacity":1},
"encoding":{"x":{"field":"wavelength","type":"quantitative","axis":{"orient":"top","labels":false,"ticks":false,"title":null,"domain":true}},"y":{"field":"flux","type":"quantitative","axis":{"orient":"right","labels":false,"ticks":false,"title":null,"domain":true}}}}
],
"resolve":{"axis":{"x":"independent","y":"independent"}}
}
],
"resolve":{"scale":{"x":"independent","y":"independent","color":"shared"},"legend":{"color":"shared"}},
"config":{
"view":{"stroke":null},
"font":"DejaVu Sans",
"legend":{"strokeWidth":3},
"axis":{"grid":false,"domainColor":"black","domainWidth":2.5,"tickColor":"black","tickWidth":2.5,"tickSize":12,"labelColor":"black","labelFont":"DejaVu Sans","labelFontSize":46,"labelPadding":12,"titleFont":"DejaVu Sans","titleFontSize":46,"titleFontWeight":"normal","titleColor":"black"}
}
}
